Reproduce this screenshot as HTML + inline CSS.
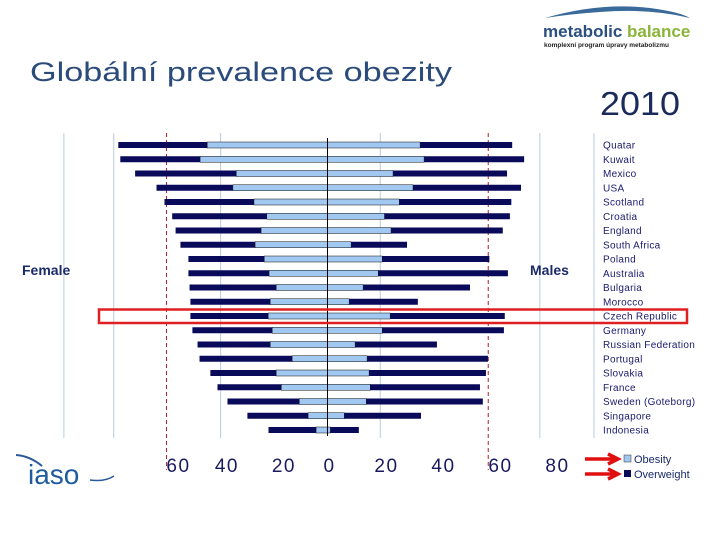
<!DOCTYPE html>
<html><head><meta charset="utf-8"><style>
body{margin:0;background:#fff;}
svg{display:block;font-family:"Liberation Sans",sans-serif;}
</style></head><body>
<svg id="c" width="720" height="540" viewBox="0 0 720 540">
<g>
<path d="M545,18 Q600,2 650,8 Q680,12 690,18 Q650,8 600,12 Q570,14 545,18Z" fill="#3a6a9a"/>
<text x="543" y="37" font-size="17" font-weight="bold" fill="#2a4f80">metabolic</text>
<text x="627" y="37" font-size="17" font-weight="bold" fill="#8ab43a">balance</text>
<text x="544" y="47" font-size="6.5" font-weight="bold" fill="#222">komplexní program úpravy metabolizmu</text>
</g>
<text x="30" y="81" font-size="27" fill="#2b4b7b" textLength="422" lengthAdjust="spacingAndGlyphs">Globální prevalence obezity</text>
<text x="600" y="115" font-size="33" fill="#1a2a5a" textLength="80" lengthAdjust="spacingAndGlyphs">2010</text>
<g id="grid"></g>
<g id="bars"></g>
<g id="labels"></g>
<g id="ticks"></g>
<text x="22" y="275" font-size="14" font-weight="bold" fill="#1a2a6a">Female</text>
<text x="530" y="275" font-size="14" font-weight="bold" fill="#1a2a6a">Males</text>
<rect x="99" y="309.5" width="588" height="13.5" fill="none" stroke="#e02020" stroke-width="2.5"/>
<g>
<path d="M585,459 H614 M608,454 L618,459 L608,464" stroke="#e01010" stroke-width="3.5" fill="none"/>
<path d="M585,474 H614 M608,469 L618,474 L608,479" stroke="#e01010" stroke-width="3.5" fill="none"/>
<rect x="624" y="455" width="7" height="7" fill="#a0c8f0" stroke="#333" stroke-width="0.5"/>
<text x="634" y="463" font-size="11" fill="#1a2a6a">Obesity</text>
<rect x="624" y="470" width="7" height="7" fill="#0a0a5a"/>
<text x="634" y="478" font-size="11" fill="#1a2a6a">Overweight</text>
</g>
<g>
<path d="M16,455 Q30,456 42,466" stroke="#2a5a9a" stroke-width="2" fill="none"/>
<text x="28" y="484" font-size="28" fill="#1f5a9f">iaso</text>
<path d="M90,480 Q105,482 114,476" stroke="#2a5a9a" stroke-width="1.5" fill="none"/>
</g>
</svg>
<script>
const countries=["Quatar","Kuwait","Mexico","USA","Scotland","Croatia","England","South Africa","Poland","Australia","Bulgaria","Morocco","Czech Republic","Germany","Russian Federation","Portugal","Slovakia","France","Sweden (Goteborg)","Singapore","Indonesia"];
const femaleOverweight=[73.4,72.7,67.5,60,57.2,54.5,53.3,51.6,48.8,48.8,48.4,48.1,48.1,47.4,45.6,44.9,41.1,38.6,35.1,28.1,20.7];
const femaleObesity=[42.2,44.7,32,33.2,25.8,21.3,23.3,25.4,22.2,20.5,18,20.1,20.8,19.4,20.1,12.4,18,16.2,9.9,6.8,4];
const maleOverweight=[64.8,69,63,67.9,64.5,64,61.5,27.9,56.8,63.3,50,31.7,62.2,61.9,38.4,56.3,55.6,53.5,54.5,32.8,11];
const maleObesity=[32.5,33.9,23,30,25.2,20,22.3,8.3,19.2,17.8,12.5,7.6,22,19.2,9.7,13.9,14.6,15,13.6,5.9,1];
const tickValues=[-53,-36,-16,0,20,40,60,80];
const tickLabels=["60","40","20","0","20","40","60","80"];
const gridValues=[-92.5,-75,-37.5,18.5,74.5,93.5];
const refValues=[-56.5,56.4];
const NS="http://www.w3.org/2000/svg";
const X0=327.5,K=2.85,Y0=145,DY=14.25,BH=6;
const x=v=>X0+v*K;
const y=i=>Y0+i*DY;
function mk(t,a,p){const e=document.createElementNS(NS,t);for(const k in a)e.setAttribute(k,a[k]);p.appendChild(e);return e;}
const G=document.getElementById('grid'),B=document.getElementById('bars'),L=document.getElementById('labels'),T=document.getElementById('ticks');
gridValues.forEach(v=>{const l=mk('line',{x1:x(v),x2:x(v),y1:133,y2:438,stroke:'#b8cce0','stroke-width':1},G);

});
refValues.forEach(v=>{const l=mk('line',{x1:x(v),x2:x(v),y1:133,y2:470,stroke:'#b02030','stroke-width':1,'stroke-dasharray':'4,3'},G);

});
countries.forEach((c,i)=>{
const yc=y(i)-BH/2;
let r=mk('rect',{x:x(-femaleOverweight[i]),y:yc,width:(femaleOverweight[i]-femaleObesity[i])*K,height:BH,fill:'#0a0a5a'},B);


r=mk('rect',{x:x(-femaleObesity[i]),y:yc,width:femaleObesity[i]*K,height:BH,fill:'#a0c8f0',stroke:'#111','stroke-width':0.5},B);


r=mk('rect',{x:x(0),y:yc,width:maleObesity[i]*K,height:BH,fill:'#a0c8f0',stroke:'#111','stroke-width':0.5},B);


r=mk('rect',{x:x(maleObesity[i]),y:yc,width:(maleOverweight[i]-maleObesity[i])*K,height:BH,fill:'#0a0a5a'},B);


const t=mk('text',{x:603,y:y(i)+3.5,'font-size':10,fill:'#1a1a6e','letter-spacing':0.3},L);t.textContent=c;


});
const cl=mk('line',{x1:x(0),x2:x(0),y1:138,y2:436,stroke:'#000','stroke-width':1},B);


tickValues.forEach((v,i)=>{const t=mk('text',{x:x(v)+2,y:472,'font-size':19,fill:'#1a1a5e','text-anchor':'middle','letter-spacing':1.5},T);t.textContent=tickLabels[i];

});
</script>
</body></html>
